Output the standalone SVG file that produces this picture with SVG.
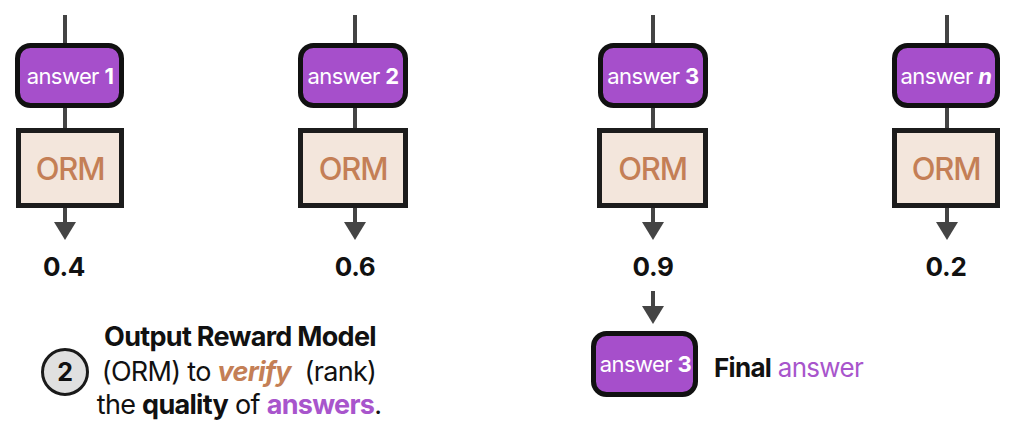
<svg xmlns="http://www.w3.org/2000/svg" width="1014" height="436" viewBox="0 0 1014 436">
<defs>
<style>
.t{font-family:Inter,"Liberation Sans",sans-serif}
.ans{fill:#A64FCB;stroke:#111;stroke-width:5}
.orm{fill:#F3E6DC;stroke:#1c1c1c;stroke-width:5}
.ansT{font-size:22px;fill:#fff;text-anchor:middle;letter-spacing:-0.6px}
.ormT{font-size:31px;fill:#C47F56;text-anchor:middle;letter-spacing:-1.2px;font-weight:500}
.score{font-size:26px;font-weight:700;fill:#111;text-anchor:middle;letter-spacing:-0.3px}
.ln{stroke:#444;stroke-width:4;fill:none}
.cap{font-size:27px;fill:#111;text-anchor:middle;letter-spacing:-0.7px}
</style>
</defs>
<g id="connectors">
<line class="ln" x1="65" y1="15" x2="65" y2="43"/>
<line class="ln" x1="65" y1="108" x2="65" y2="128"/>
<path d="M65,208 V222" class="ln"/><path d="M54,222 H76 L65,240 Z" fill="#444"/>
<line class="ln" x1="355" y1="15" x2="355" y2="43"/>
<line class="ln" x1="355" y1="108" x2="355" y2="128"/>
<path d="M355,208 V222" class="ln"/><path d="M344,222 H366 L355,240 Z" fill="#444"/>
<line class="ln" x1="653" y1="15" x2="653" y2="43"/>
<line class="ln" x1="653" y1="108" x2="653" y2="128"/>
<path d="M653,208 V222" class="ln"/><path d="M642,222 H664 L653,240 Z" fill="#444"/>
<line class="ln" x1="947" y1="15" x2="947" y2="43"/>
<line class="ln" x1="947" y1="108" x2="947" y2="128"/>
<path d="M947,208 V222" class="ln"/><path d="M936,222 H958 L947,240 Z" fill="#444"/>
<path d="M653,291 V307" class="ln"/><path d="M642,306 H664 L653,324 Z" fill="#444"/>
</g>
<g id="answer1">
<rect class="ans" x="17.5" y="45.5" width="104" height="60" rx="13"/>
<text class="t ansT" x="70" y="84"><tspan>answer </tspan><tspan font-weight="700">1</tspan></text>
</g>
<g id="orm1">
<rect class="orm" x="18.5" y="130.5" width="103" height="75"/>
<text class="t ormT" x="70" y="180">ORM</text>
</g>
<text id="score1" class="t score" x="64" y="276">0.4</text>
<g id="answer2">
<rect class="ans" x="300.5" y="45.5" width="105" height="60" rx="13"/>
<text class="t ansT" x="353" y="84"><tspan>answer </tspan><tspan font-weight="700">2</tspan></text>
</g>
<g id="orm2">
<rect class="orm" x="300.5" y="130.5" width="105" height="75"/>
<text class="t ormT" x="353" y="180">ORM</text>
</g>
<text id="score2" class="t score" x="355" y="276">0.6</text>
<g id="answer3">
<rect class="ans" x="600.5" y="45.5" width="105" height="60" rx="13"/>
<text class="t ansT" x="653" y="84"><tspan>answer </tspan><tspan font-weight="700">3</tspan></text>
</g>
<g id="orm3">
<rect class="orm" x="599.5" y="130.5" width="106" height="75"/>
<text class="t ormT" x="652.5" y="180">ORM</text>
</g>
<text id="score3" class="t score" x="653" y="276">0.9</text>
<g id="answerN">
<rect class="ans" x="894.5" y="45.5" width="103" height="60" rx="13"/>
<text class="t ansT" x="946" y="84"><tspan>answer </tspan><tspan font-weight="700" font-style="italic">n</tspan></text>
</g>
<g id="ormN">
<rect class="orm" x="894.5" y="130.5" width="103" height="75"/>
<text class="t ormT" x="946" y="180">ORM</text>
</g>
<text id="scoreN" class="t score" x="946" y="276">0.2</text>
<g id="final">
<rect class="ans" x="593.5" y="333.5" width="102" height="61" rx="13"/>
<text class="t ansT" x="645.5" y="372"><tspan>answer </tspan><tspan font-weight="700">3</tspan></text>
</g>
<text id="finalLabel" class="t" x="714" y="377" font-size="26" letter-spacing="-0.7"><tspan font-weight="700" fill="#111">Final</tspan><tspan fill="#A855CC"> answer</tspan></text>
<g id="step2">
<circle cx="65" cy="372" r="22.5" fill="#E0E0E0" stroke="#1a1a1a" stroke-width="3"/>
<text class="t" x="65" y="381" font-size="25" font-weight="700" text-anchor="middle" fill="#111">2</text>
</g>
<g id="caption">
<text class="t cap" x="240" y="346" font-weight="700">Output Reward Model</text>
<text class="t cap" x="239" y="381" xml:space="preserve"><tspan>(ORM) to </tspan><tspan font-weight="700" font-style="italic" fill="#C47F56">verify</tspan><tspan>  (rank)</tspan></text>
<text class="t cap" x="239" y="414"><tspan>the </tspan><tspan font-weight="700">quality</tspan><tspan> of </tspan><tspan font-weight="700" fill="#A855CC">answers</tspan><tspan>.</tspan></text>
</g>
</svg>
